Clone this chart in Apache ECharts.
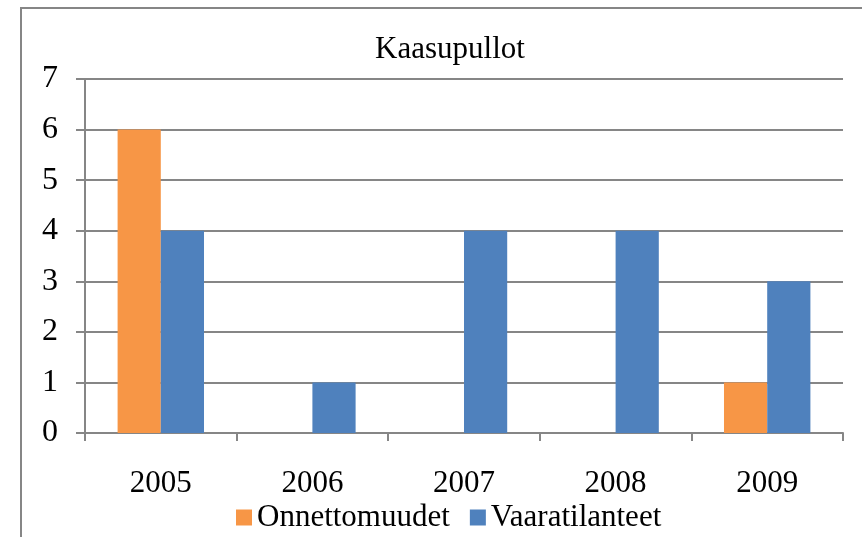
<!DOCTYPE html>
<html>
<head>
<meta charset="utf-8">
<script src="https://cdn.jsdelivr.net/npm/echarts@6/dist/echarts.min.js"></script>
<style>
  html, body { margin: 0; padding: 0; background: #fff; }
  #main { width: 862px; height: 537px; }
</style>
</head>
<body>
<div id="main"></div>
<script>
// data
var years = ['2005', '2006', '2007', '2008', '2009'];
var onnettomuudet = [6, 0, 0, 0, 1];
var vaaratilanteet = [4, 1, 4, 4, 3];

var serif = '"Liberation Serif", "DejaVu Serif", serif';
var chart = echarts.init(document.getElementById('main'));

var option = {
    animation: false,
    backgroundColor: '#fff',
    textStyle: { fontFamily: serif, color: '#000' },
    title: {
        text: 'Kaasupullot',
        left: 445,
        top: 29,
        textAlign: 'center',
        textStyle: { fontFamily: serif, fontSize: 31, fontWeight: 'normal', color: '#000' }
    },
    legend: {
        data: ['Onnettomuudet', 'Vaaratilanteet'],
        left: 236,
        top: 502,
        padding: 0,
        itemWidth: 16,
        itemHeight: 16,
        itemGap: 20,
        icon: 'rect',
        textStyle: { fontFamily: serif, fontSize: 31, color: '#000' }
    },
    grid: { left: 85, right: 19, top: 79, bottom: 104 },
    xAxis: {
        type: 'category',
        data: years,
        axisLine: { lineStyle: { color: '#868686', width: 2 } },
        axisTick: { show: true, length: 8, lineStyle: { color: '#868686', width: 2 } },
        axisLabel: { fontFamily: serif, fontSize: 31, color: '#000', margin: 35 }
    },
    yAxis: {
        type: 'value',
        min: 0,
        max: 7,
        interval: 1,
        axisLine: { show: true, lineStyle: { color: '#868686', width: 2 } },
        axisTick: { show: true, length: 9, lineStyle: { color: '#868686', width: 2 } },
        axisLabel: { fontFamily: serif, fontSize: 32, color: '#000', margin: 27 },
        splitLine: { lineStyle: { color: '#868686', width: 2 } }
    },
    series: [
        {
            name: 'Onnettomuudet',
            type: 'bar',
            data: onnettomuudet,
            itemStyle: { color: '#F79646' },
            barGap: '0%',
            barCategoryGap: '43%'
        },
        {
            name: 'Vaaratilanteet',
            type: 'bar',
            data: vaaratilanteet,
            itemStyle: { color: '#4F81BD' }
        }
    ],
    graphic: [{
        type: 'rect',
        shape: { x: 21, y: 8, width: 850, height: 540 },
        style: { fill: null, stroke: '#868686', lineWidth: 2 },
        silent: true
    }]
};

chart.setOption(option);
</script>
</body>
</html>
